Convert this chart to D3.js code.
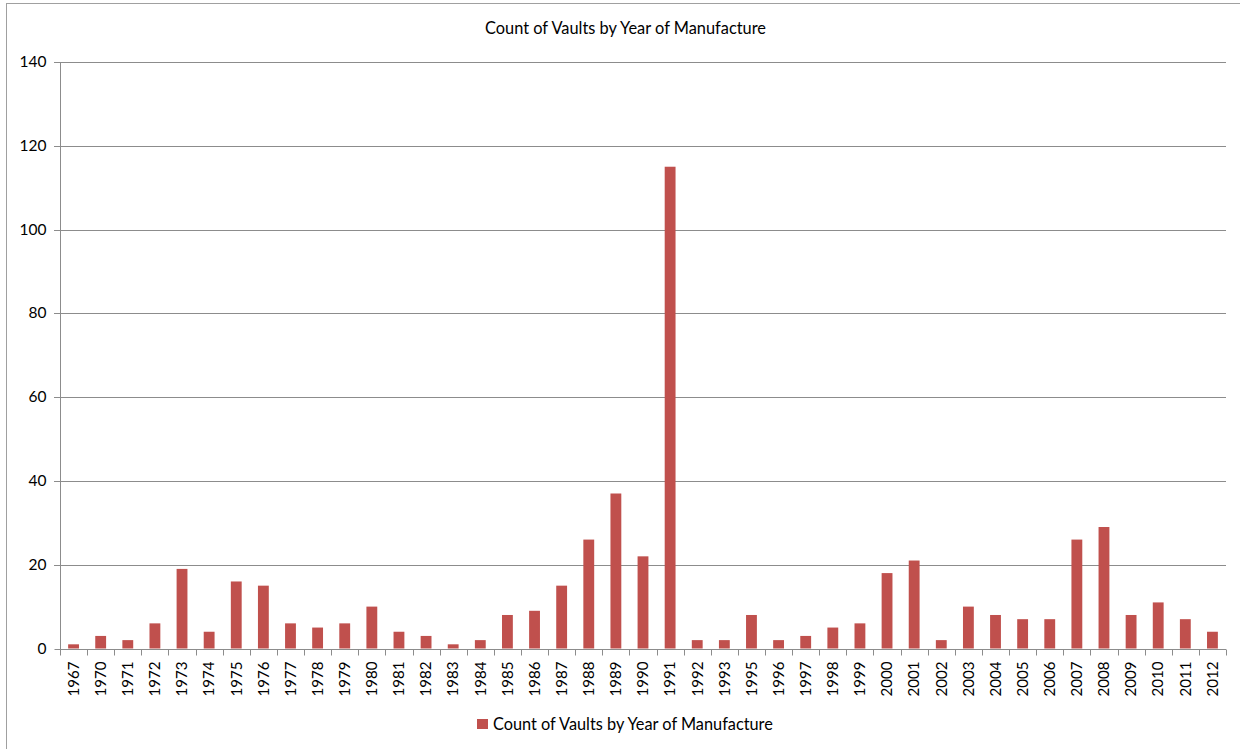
<!DOCTYPE html>
<html><head><meta charset="utf-8">
<script src="https://cdn.jsdelivr.net/npm/d3@7"></script>
<style>body{margin:0;background:#fff} svg{display:block}</style>
</head><body>
<svg id="c" width="1240" height="749"></svg>
<script>
const years = ["1967","1970","1971","1972","1973","1974","1975","1976","1977","1978","1979","1980","1981","1982","1983","1984","1985","1986","1987","1988","1989","1990","1991","1992","1993","1995","1996","1997","1998","1999","2000","2001","2002","2003","2004","2005","2006","2007","2008","2009","2010","2011","2012"];
const counts = [1,3,2,6,19,4,16,15,6,5,6,10,4,3,1,2,8,9,15,26,37,22,115,2,2,8,2,3,5,6,18,21,2,10,8,7,7,26,29,8,11,7,4];
const yTicks = [0,20,40,60,80,100,120,140];
const chartTitle = "Count of Vaults by Year of Manufacture";
const seriesName = "Count of Vaults by Year of Manufacture";

const svg = d3.select("#c");
const FONT = "Lato, 'Open Sans', 'Liberation Sans', sans-serif";
const m = {left:60, right:1226, top:62, bottom:648.5};
const barColor = "#C0504D";
const gridColor = "#8c8c8c";

// outer frame
svg.append("rect").attr("x",6.5).attr("y",3.5).attr("width",1260).attr("height",780)
  .attr("fill","#fff").attr("stroke","#a0a0a0");

const x = d3.scaleBand().domain(years).range([m.left,m.right]).paddingInner(0.6).paddingOuter(0.3);
const y = d3.scaleLinear().domain([0,140]).range([m.bottom,m.top]);

function fitSize(sel, target, base){
  const l = sel.node().getComputedTextLength();
  return base*target/l;
}

// gridlines
svg.append("g").selectAll("line").data(yTicks.filter(d=>d>0)).join("line")
  .attr("x1",m.left-6).attr("x2",m.right)
  .attr("y1",d=>Math.round(y(d))+0.5).attr("y2",d=>Math.round(y(d))+0.5)
  .attr("stroke",gridColor).attr("stroke-width",1);

// y axis
const yAxis = svg.append("g").attr("transform",`translate(${m.left+0.5},0.5)`)
  .call(d3.axisLeft(y).tickValues(yTicks).tickSize(6).tickPadding(8));
yAxis.select(".domain").attr("stroke",gridColor).attr("d",`M0,${Math.round(m.top)}V${Math.round(m.bottom)}`);
yAxis.selectAll(".tick line").attr("stroke",gridColor);
yAxis.selectAll(".tick").attr("transform",d=>`translate(0,${Math.round(y(d))})`);
const yTxt = yAxis.selectAll(".tick text").attr("font-family",FONT).attr("fill","#000").attr("font-size",14);
const ySize = fitSize(yAxis.selectAll(".tick text").filter(d=>d===140), 27, 14);
yTxt.attr("font-size",ySize).attr("x",-14);

// bars
svg.append("g").selectAll("rect").data(counts).join("rect")
  .attr("x",(d,i)=>x(years[i]))
  .attr("width",x.bandwidth())
  .attr("y",d=>y(d))
  .attr("height",d=>y(0)-y(d))
  .attr("fill",barColor);

// x axis
const xa = svg.append("g");
const by = Math.round(m.bottom)+0.5;
xa.append("line").attr("x1",m.left).attr("x2",m.right).attr("y1",by).attr("y2",by).attr("stroke",gridColor);
const bounds = d3.range(years.length+1).map(i=>m.left + i*x.step());
xa.selectAll("line.tk").data(bounds).join("line").attr("class","tk")
  .attr("x1",d=>Math.round(d)+0.5).attr("x2",d=>Math.round(d)+0.5)
  .attr("y1",by).attr("y2",by+6).attr("stroke",gridColor);
const xl = xa.selectAll("text").data(years).join("text")
  .attr("transform",d=>`translate(${x(d)+x.bandwidth()/2},661.5) rotate(-90)`)
  .attr("text-anchor","end").attr("dy","0.35em")
  .attr("font-family",FONT).attr("font-size",14).attr("fill","#000")
  .text(d=>d);
const xSize = fitSize(xl.filter((d,i)=>i===0), 35, 14);
xl.attr("font-size",xSize);

// title
const t = svg.append("text").attr("x",625.5).attr("y",34).attr("text-anchor","middle")
  .attr("font-family",FONT).attr("font-size",14).attr("fill","#000").text(chartTitle);
t.attr("font-size",fitSize(t,281,14));

// legend
svg.append("rect").attr("x",477).attr("y",719).attr("width",11).attr("height",10).attr("fill",barColor);
const lt = svg.append("text").attr("x",493).attr("y",724).attr("dy","0.35em")
  .attr("font-family",FONT).attr("font-size",14).attr("fill","#000").text(seriesName);
lt.attr("font-size",fitSize(lt,280,14));
</script>
</body></html>
